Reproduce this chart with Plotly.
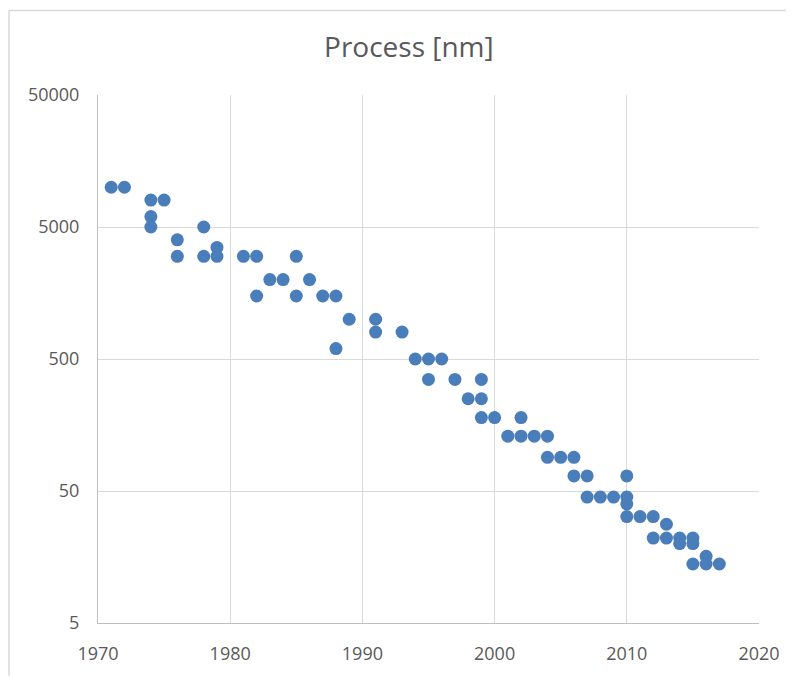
import plotly.graph_objects as go

years = [1971, 1972, 1974, 1974, 1974, 1975, 1976, 1976, 1978, 1978, 1979, 1979,
         1981, 1982, 1982, 1983, 1984, 1985, 1985, 1986, 1987, 1988, 1988, 1989,
         1991, 1991, 1993, 1994, 1995, 1995, 1996, 1997, 1998, 1999, 1999, 1999,
         2000, 2001, 2002, 2002, 2003, 2004, 2004, 2005, 2006, 2006, 2007, 2007,
         2008, 2009, 2010, 2010, 2010, 2010, 2011, 2012, 2012, 2013, 2013, 2014,
         2014, 2015, 2015, 2015, 2016, 2016, 2017]
process_nm = [10000, 10000, 8000, 6000, 5000, 8000, 4000, 3000, 5000, 3000, 3500, 3000,
              3000, 3000, 1500, 2000, 2000, 3000, 1500, 2000, 1500, 1500, 600, 1000,
              1000, 800, 800, 500, 500, 350, 500, 350, 250, 350, 250, 180,
              180, 130, 180, 130, 130, 130, 90, 90, 90, 65, 65, 45,
              45, 45, 65, 45, 40, 32, 32, 32, 22, 28, 22, 22,
              20, 22, 20, 14, 16, 14, 14]

x_ticks = [1970, 1980, 1990, 2000, 2010, 2020]
y_ticks = [5, 50, 500, 5000, 50000]
y_tick_labels = ["5", "50", "500", "5000", "50000"]

fig = go.Figure()
fig.add_trace(go.Scatter(
    x=years, y=process_nm, mode="markers",
    marker=dict(size=13, color="#4A7EBB", line=dict(width=0)),
    showlegend=False,
))

font_gray = "#595959"
fig.update_layout(
    width=786, height=669,
    margin=dict(l=90, r=35, t=87, b=52),
    paper_bgcolor="white", plot_bgcolor="white",
    title=dict(text="Process [nm]", x=0.51, xanchor="center", y=0.942, yanchor="middle",
               font=dict(family="Open Sans, Liberation Sans, sans-serif", size=28, color=font_gray)),
    font=dict(family="Open Sans, Liberation Sans, sans-serif", size=18, color=font_gray),
)
fig.update_xaxes(
    range=[1970, 2020], tickvals=x_ticks, showgrid=True, gridcolor="#D9D9D9", gridwidth=1,
    showline=True, linecolor="#BFBFBF", linewidth=1, zeroline=False,
    ticks="", ticklabelstandoff=14, tickfont=dict(size=18, color=font_gray),
)
fig.update_yaxes(
    type="log", range=[0.69897, 4.69897], tickvals=y_ticks, ticktext=y_tick_labels,
    showgrid=True, gridcolor="#D9D9D9", gridwidth=1,
    showline=True, linecolor="#BFBFBF", linewidth=1, zeroline=False,
    ticks="", ticklabelstandoff=14, tickfont=dict(size=18, color=font_gray),
)
# chart area border (left and top edges visible in the reference)
fig.add_shape(type="line", xref="paper", yref="paper", x0=-0.1346, x1=1.06, y0=1.160, y1=1.160,
              line=dict(color="#D9D9D9", width=1.5))
fig.add_shape(type="line", xref="paper", yref="paper", x0=-0.1346, x1=-0.1346, y0=-0.1, y1=1.160,
              line=dict(color="#D9D9D9", width=1.5))

fig.write_html("out.html")
